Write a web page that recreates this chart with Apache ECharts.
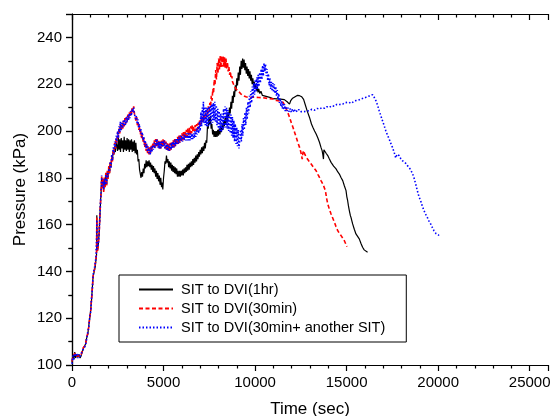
<!DOCTYPE html>
<html>
<head>
<meta charset="utf-8">
<script src="https://cdn.jsdelivr.net/npm/echarts@6/dist/echarts.min.js"></script>
<style>
  html, body { margin: 0; padding: 0; background: #fff; }
  #chart { width: 552px; height: 416px; }
</style>
</head>
<body>
<div id="chart"></div>
<script>
// Pressure histories, [time (sec), pressure (kPa)]
const seriesNames = ['SIT to DVI(1hr)', 'SIT to DVI(30min)', 'SIT to DVI(30min+ another SIT)'];

const run1hr = [
  [0,101],[50,104.5],[100,102.5],[150,105.5],[200,103],[260,104.5],[320,103.5],[380,104.5],[440,103],[500,104],
  [560,105.5],[620,107],[680,106.5],[740,109],[800,111.5],[860,113],[920,117],[970,120],[1020,123.5],[1070,128],
  [1110,133],[1150,137.5],[1190,139],[1230,140.5],[1270,142],[1310,145],[1340,147],[1350,158],[1356,164],[1362,150],
  [1400,149],[1440,152],[1480,156],[1520,163],[1560,170],[1590,174],[1620,180],[1650,176],[1690,179],[1730,174.5],
  [1770,180],[1810,176.5],[1850,182],[1890,177],[1930,182.5],[1970,180],[2010,184.5],[2050,182],[2090,186.5],[2130,185],
  [2170,188.5],[2210,187.5],[2250,191.5],[2290,190],[2330,193.5],[2370,191],[2410,195.5],
  [2450,196],[2490,191.5],[2530,197],[2570,192],[2610,196.5],[2650,191],[2690,197],[2730,192.5],[2770,196],[2810,191],
  [2850,197.5],[2890,192],[2930,196],[2970,191.5],[3010,197],[3050,192],[3090,196.5],[3130,191],[3170,196],[3210,192],
  [3250,196.5],[3290,191],[3330,195.5],[3370,191.5],[3410,196],[3450,190.5],[3490,195],[3530,190],[3570,192],
  [3610,187],[3650,188],[3690,183.5],[3730,184],[3770,180],[3810,182.5],[3850,180.5],[3890,184],[3930,182],[3970,186],
  [4010,184],[4050,187.5],[4090,184.5],[4130,187],[4170,185],[4210,187.5],[4250,184.5],[4290,186.5],[4330,183.5],[4370,185.5],
  [4410,182.5],[4450,185],[4490,182],[4530,184],[4570,180.5],[4610,183],[4650,179.5],[4690,182],[4730,178.5],[4770,181],
  [4810,177],[4850,180],[4890,176],[4930,178],[4960,175],[5000,180],[5040,183],[5080,187],[5120,186],[5160,189.5],
  [5200,186.5],[5240,188],[5280,184.5],[5320,187],[5360,184],[5400,186.5],[5440,183],[5480,185.5],[5520,182.5],[5560,185],
  [5600,182],[5640,184.5],[5680,181.5],[5720,184],[5760,180.5],[5800,183],[5840,180.5],[5880,183],[5920,180.5],[5960,183],
  [6000,181],[6040,183.5],[6080,181],[6120,184],[6160,182],[6200,184.5],[6240,182.5],[6280,185.5],[6320,183],[6360,186],
  [6400,183.5],[6440,186.5],[6480,184.5],[6520,187],[6560,185],[6600,188],[6640,185.5],[6680,188.5],[6720,186.5],[6760,189.5],
  [6800,187],[6840,190],[6880,188],[6920,191],[6960,189],[7000,192],[7040,190],[7080,193],[7120,190.5],[7160,193.5],
  [7200,191.5],[7240,195],[7280,192.5],[7320,196],[7360,195],[7400,202],[7440,201],[7480,206],[7520,203],[7560,206.5],
  [7600,201],[7640,203],[7680,198.5],[7720,200.5],[7760,197.5],[7800,200],[7840,197.5],[7880,200],[7920,197.5],[7960,200.5],
  [8000,198],[8040,201],[8080,198.5],[8120,202],[8160,199.5],[8200,203],[8240,200.5],[8280,204.5],[8320,202],[8360,205.5],
  [8400,203],[8440,207],[8480,204],[8520,208],[8560,205.5],[8600,210],[8640,207.5],[8680,212.5],[8720,209.5],[8760,215],
  [8800,212],[8840,217],[8880,214.5],[8920,219.5],[8960,217],[9000,222.5],[9040,219.5],[9080,225],[9120,221.5],[9160,227.5],
  [9200,224],[9240,230],[9280,226.5],[9320,231],[9360,227],[9400,230.5],[9440,226],[9480,229],[9520,224.5],[9560,227.5],
  [9600,223.5],[9640,226.5],[9680,222.5],[9720,225.5],[9760,221.5],[9800,224],[9840,220],[9880,222.5],[9920,219],[9960,221],
  [10000,218],[10040,220],[10080,217],[10120,219],[10160,216.5],[10200,218],[10260,216],[10320,217],[10400,215.2],[10500,215.5],
  [10600,214.8],[10700,214.9],[10800,214.4],[11000,213.8],[11200,213.7],[11400,213.6],[11600,213.4],[11750,212.5],[11880,211.5],[11950,213],
  [12050,214],[12150,214.8],[12300,215.2],[12430,215.1],[12550,214.6],[12650,213.5],[12750,211],[12850,208.5],[12974,205.8],[13080,203],
  [13155,201.6],[13250,200],[13336,198.7],[13430,197],[13517,195.2],[13600,193],[13662,191.6],[13700,190],[13735,188],[13760,192],
  [13789,191.6],[13880,190.5],[13970,189.5],[14060,188],[14151,186.6],[14290,185],[14423,183.8],[14520,182.5],[14605,181.6],[14700,180],
  [14787,178.8],[14880,176.5],[14968,174.5],[15010,172],[15057,170.2],[15100,168],[15148,166],[15200,164],[15239,163.1],[15290,161.5],
  [15329,160.3],[15420,158],[15510,156],[15600,155],[15691,153.9],[15780,152],[15873,150.3],[15960,149.2],[16053,148.6],[16145,148.2]
];

const run30min = [
  [0,101.5],[50,103.5],[100,103],[150,105],[200,103.5],[260,104],[320,104],[380,104],[440,103.5],[500,104.5],
  [560,105],[620,107.5],[680,107],[740,108.5],[800,112],[860,113.5],[920,116.5],[970,120.5],[1020,123],[1070,128.5],
  [1110,132.5],[1150,138],[1190,138.5],[1230,141],[1270,141.5],[1310,145.5],[1340,147.5],[1350,157],[1356,163],[1362,150.5],
  [1400,148.5],[1440,152.5],[1480,155.5],[1520,163.5],[1560,169.5],[1590,174.5],[1620,180.5],[1650,175.5],[1690,179.5],[1730,174],
  [1770,180.5],[1810,176],[1850,182.5],[1890,176.5],[1930,183],[1970,179.5],[2010,185],[2050,181.5],
  [2090,186.5],[2130,184.5],[2170,189.5],[2210,187],[2250,192],[2290,190],[2330,195],[2370,192.5],[2410,197],[2450,195],
  [2490,199.5],[2530,197],[2570,201],[2610,199],[2650,203],[2690,200],[2730,203.5],[2770,201],[2810,204.5],[2850,202],
  [2890,205.5],[2930,203],[2970,206],[3010,204],[3050,207],[3090,205],[3130,208],[3170,206],[3210,209],[3250,207],
  [3290,210],[3330,208],[3370,210.5],[3410,207.5],[3450,207.5],[3490,204.5],[3530,206],[3570,202.5],[3610,204],[3650,200.5],
  [3690,202],[3730,198.5],[3770,200],[3810,196.5],[3850,198.5],[3890,195],[3930,197],[3970,193],[4010,195.5],[4050,191.5],
  [4090,194],[4130,190.5],[4170,193],[4210,190],[4250,193],[4290,190.5],[4330,194],[4370,191.5],[4410,195],[4450,192.5],
  [4490,196],[4530,193],[4570,196.5],[4610,193.5],[4650,196.5],[4690,193],[4730,196],[4770,192.5],[4810,195.5],[4850,192.5],
  [4890,196],[4930,193],[4970,196.5],[5010,193.5],[5050,196],[5090,192.5],[5130,195.5],[5170,192],[5210,195],[5250,191.5],
  [5290,194.5],[5330,191.5],[5370,195],[5410,192],[5450,195.5],[5490,192.5],[5530,196],[5570,193],[5610,196.5],[5650,193.5],
  [5690,197],[5730,194],[5770,197.5],[5810,194.5],[5850,198],[5890,195],[5930,198.5],[5970,195.5],[6010,199],[6050,196],
  [6090,199.5],[6130,196.5],[6170,200],[6210,197],[6250,200.5],[6290,197.5],[6330,201],[6370,198],[6410,201.5],[6450,198.5],
  [6490,202],[6530,199],[6570,202.5],[6610,199.5],[6650,202],[6690,200],[6730,202.5],[6770,200],[6810,203],[6850,200.5],
  [6890,203.5],[6930,201],[6970,204.5],[7010,202.5],[7050,205],[7090,203.5],[7130,206.5],[7170,204],[7210,207],[7250,205],
  [7290,208],[7330,206],[7370,209],[7410,207],[7450,210.5],[7490,208.5],[7530,212],[7570,210.5],[7610,215],[7650,213],
  [7690,218],[7730,216],[7770,222],[7810,219.5],[7850,226],[7890,222],[7930,229],[7970,224.5],[8010,231],[8050,226],
  [8090,232],[8130,227],[8170,232],[8210,227.5],[8250,232],[8290,227.5],[8330,231.5],[8370,227],[8410,231],[8450,226.5],
  [8490,229.5],[8530,225.5],[8570,227.5],[8610,224],[8650,225.5],[8690,222.5],[8730,223.5],[8770,221],[8810,221.5],[8850,219.5],
  [8900,219.5],[8950,218],[9000,218.2],[9079,217.2],[9200,216],[9351,215.1],[9500,214.6],[9623,214.4],[9800,214.4],[10000,214.4],
  [10200,214.3],[10438,214.2],[10700,213.9],[10982,213.7],[11162,213],[11350,212.8],[11524,212.3],[11620,211],[11705,209.4],[11800,207.6],
  [11886,205.8],[11980,203.5],[12068,201.6],[12160,199.4],[12249,197.3],[12340,195],[12430,193],[12500,191],[12575,188],[12610,190.5],
  [12647,191.6],[12720,190],[12792,188.8],[12930,187.3],[13064,185.9],[13200,184.4],[13336,183],[13430,181.5],[13517,180.2],[13600,178.8],
  [13698,177.4],[13770,176],[13843,174.5],[13900,171.5],[13970,168.8],[14060,166.5],[14151,164.5],[14240,162.8],[14333,161],[14420,159.2],
  [14514,157.4],[14600,156.3],[14695,155.3],[14790,154.2],[14877,153.1],[14950,151.8],[15021,150.6]
];

const run30minSit = [
  [0,100.5],[50,104],[100,102],[150,105],[200,103.5],[260,105],[320,103],[380,104.5],[440,103.5],[500,103.5],
  [560,106],[620,106.5],[680,107.5],[740,108.5],[800,111],[860,114],[920,116],[970,121],[1020,122.5],[1070,129],
  [1110,132],[1150,138.5],[1190,138],[1230,141.5],[1270,141],[1310,146],[1340,146.5],[1350,156],[1356,162],[1362,149.5],
  [1400,149.5],[1440,151.5],[1480,156.5],[1520,162.5],[1560,170.5],[1590,173.5],[1620,181],[1650,176.5],[1690,178.5],[1730,175],
  [1770,179.5],[1810,177],[1850,181.5],[1890,177.5],[1930,182],[1970,180.5],[2010,184],[2050,182.5],
  [2090,187],[2130,184],[2170,190],[2210,187.5],[2250,193],[2290,190.5],[2330,195.5],[2370,193],[2410,198],[2450,195.5],
  [2490,200],[2530,197],[2570,202],[2610,199.5],[2640,204],[2680,200],[2720,203.5],[2760,201],[2800,204.5],[2840,202],
  [2880,205],[2920,202.5],[2960,206],[3000,203.5],[3040,206.5],[3080,204.5],[3120,207.5],[3160,205.5],[3200,208.5],[3240,206.5],
  [3280,209.5],[3320,208],[3360,210],[3400,207.5],[3440,208],[3480,205],[3520,206.5],[3560,203],[3600,205],[3640,201.5],
  [3680,203],[3720,199.5],[3760,201],[3800,197.5],[3840,199.5],[3880,196],[3920,197.5],[3960,194],[4000,196],[4040,192.5],
  [4080,194.5],[4120,191],[4160,193.5],[4200,190.5],[4240,192.5],[4280,190],[4320,193],[4360,191],[4400,194],[4440,192],
  [4480,195],[4520,192.5],[4560,196],[4600,193.5],[4640,196.5],[4680,193],[4720,195.5],[4760,192.5],[4800,195.5],[4840,192.5],
  [4880,195.5],[4920,193],[4960,196],[5000,193.5],[5040,196],[5080,192.5],[5120,195],[5160,192],[5200,194.5],[5240,191.5],
  [5280,194],[5320,191.5],[5360,194.5],[5400,192],[5440,195],[5480,192.5],[5520,195.5],[5560,193],[5600,196],[5640,193.5],
  [5680,196.5],[5720,194],[5760,197],[5800,194.5],[5840,197.5],[5880,195],[5920,198],[5960,195.5],[6000,198],[6040,195.5],
  [6080,198.5],[6120,196],[6160,198.5],[6200,196],[6240,199],[6280,196],[6320,199],[6360,196],[6400,199],[6440,196],
  [6480,199],[6520,196.5],[6560,199],[6600,196.5],[6640,199],[6680,197],[6720,200],[6760,197.5],[6800,201],[6840,198.5],
  [6880,202],[6920,199],[6960,204],[7000,200],[7040,208],[7080,202],[7120,210],[7150,204],[7177,212.5],[7200,203.5],
  [7240,210.5],[7280,202.5],[7320,210],[7360,202],[7400,210],[7440,202],[7480,210.5],[7520,202.5],[7560,211],[7600,203],
  [7640,211.5],[7680,203.5],[7720,212],[7760,204.5],[7800,212.5],[7840,204],[7880,211],[7920,202.5],[7960,209.5],[8000,201],
  [8040,208.5],[8080,200],[8120,207.5],[8160,199.5],[8200,207.5],[8240,200.5],[8280,209.5],[8320,201.5],[8360,210.5],[8400,201.5],
  [8440,210],[8480,201],[8520,209],[8560,200],[8600,208],[8640,199],[8680,207],[8720,198],[8760,206],[8800,197],
  [8840,204.5],[8880,195.5],[8920,203],[8960,194.5],[9000,201.5],[9040,193.5],[9080,200.5],[9120,192.5],[9170,193],[9210,200.5],
  [9250,195.5],[9290,203],[9330,198],[9370,205.5],[9410,200.5],[9450,208],[9490,202.5],[9530,210],[9570,205],[9610,212.5],
  [9650,207.5],[9690,215],[9730,210],[9770,217],[9810,212],[9850,219],[9890,214],[9930,220.5],[9970,215.5],[10010,222],
  [10050,217],[10090,223],[10130,218],[10170,224],[10210,219],[10250,225],[10290,220.5],[10330,226.5],[10370,222],[10410,228],
  [10450,223.5],[10490,229],[10530,225.5],[10570,228.5],[10610,223.5],[10650,226.5],[10690,221.5],[10730,224.5],[10770,219.5],[10810,222.5],
  [10850,218],[10890,221],[10930,217],[10970,220.5],[11010,216.5],[11050,220],[11090,216],[11130,219],[11170,215],[11210,217.5],
  [11250,213.5],[11290,216],[11330,212],[11370,214],[11410,210.5],[11450,213],[11490,209.5],[11530,212],[11570,209],[11610,211.5],
  [11650,208.5],[11700,210.5],[11750,208.5],[11800,210],[11860,208.2],[11920,209.6],[11980,208],[12050,209.5],[12120,208],[12200,209.3],
  [12300,208.2],[12400,209.2],[12500,208.3],[12600,209],[12700,208.3],[12800,209],[12974,208.7],[13100,209.3],[13250,208.9],[13400,209.6],
  [13517,209.4],[13650,210],[13800,209.7],[13930,210.4],[14061,210.1],[14200,210.8],[14330,210.6],[14470,211.4],[14605,211.3],[14700,211.8],
  [14787,211.5],[14900,212.1],[15000,211.8],[15120,212.3],[15239,211.8],[15380,212.5],[15510,213],[15650,213.2],[15780,213.7],[15920,214],
  [16053,214.4],[16150,214.6],[16250,215],[16340,215.2],[16416,215.5],[16500,214.5],[16597,213],[16690,211],[16779,208.7],[16870,206.5],
  [16960,204.4],[17050,202.3],[17141,200.1],[17230,198.3],[17322,196.6],[17410,194.8],[17504,193],[17600,190.8],[17685,188.5],[17750,190],
  [17830,190.2],[17866,189.5],[17950,188.3],[18047,187.3],[18140,186.6],[18228,186.2],[18322,185.2],[18450,184],[18591,182],[18681,180],
  [18772,177.4],[18863,174.5],[18950,172],[19044,170.2],[19130,168],[19225,166],[19310,164.5],[19407,163.1],[19500,161.5],[19588,160.3],
  [19680,158.8],[19769,157.4],[19880,156.2],[20004,155.7],[20041,155.3]
];

// Axis ranges and tick spacing
const timeRange = [0, 26000];
const timeStep = 5000;
const pressureRange = [100, 250];
const pressureStep = 20;

const FONT = '"Liberation Sans", Arial, sans-serif';
const chart = echarts.init(document.getElementById('chart'), null, { renderer: 'canvas' });

const axisLineStyle = { color: '#000', width: 1.2 };
const tickStyle = { color: '#000', width: 1.2 };
const plain = v => String(v);

chart.setOption({
  animation: false,
  backgroundColor: '#fff',
  grid: { left: 72, right: 4, top: 14, bottom: 51, outerBoundsMode: 'none', containLabel: false },
  legend: {
    orient: 'vertical',
    left: 119,
    top: 275,
    padding: [7, 21, 7, 19],
    itemGap: 4,
    itemWidth: 34,
    itemHeight: 14,
    borderColor: '#000',
    borderWidth: 1,
    backgroundColor: '#fff',
    selectedMode: false,
    // only the line sample is drawn in each legend entry
    itemStyle: { opacity: 0 },
    textStyle: { fontFamily: FONT, fontSize: 14.5, color: '#000', padding: [0, 0, 0, 3] },
    data: seriesNames
  },
  xAxis: [
    {
      type: 'value', position: 'bottom',
      min: timeRange[0], max: timeRange[1], interval: timeStep,
      name: 'Time (sec)', nameLocation: 'middle', nameGap: 36, nameMoveOverlap: false,
      nameTextStyle: { fontFamily: FONT, fontSize: 17, color: '#000' },
      axisLine: { lineStyle: axisLineStyle },
      axisTick: { show: true, length: 6, lineStyle: tickStyle },
      minorTick: { show: true, splitNumber: 5, length: 3.5, lineStyle: tickStyle },
      axisLabel: { fontFamily: FONT, fontSize: 15, color: '#000', margin: 10, showMaxLabel: false, formatter: plain },
      splitLine: { show: false }
    },
    {
      type: 'value', position: 'top',
      min: timeRange[0], max: timeRange[1], interval: timeStep,
      axisLine: { lineStyle: axisLineStyle },
      axisTick: { show: true, inside: true, length: 6, lineStyle: tickStyle },
      minorTick: { show: true, splitNumber: 5, length: 3.5, lineStyle: tickStyle },
      axisLabel: { show: false },
      splitLine: { show: false }
    }
  ],
  yAxis: [
    {
      type: 'value', position: 'left',
      min: pressureRange[0], max: pressureRange[1], interval: pressureStep,
      name: 'Pressure (kPa)', nameLocation: 'middle', nameGap: 43, nameMoveOverlap: false,
      nameTextStyle: { fontFamily: FONT, fontSize: 17, color: '#000' },
      axisLine: { show: true, lineStyle: axisLineStyle },
      axisTick: { show: true, length: 6, lineStyle: tickStyle },
      minorTick: { show: true, splitNumber: 2, length: 3.5, lineStyle: tickStyle },
      axisLabel: { fontFamily: FONT, fontSize: 15, color: '#000', margin: 10, showMaxLabel: false, formatter: plain },
      splitLine: { show: false }
    },
    {
      type: 'value', position: 'right',
      min: pressureRange[0], max: pressureRange[1], interval: pressureStep,
      axisLine: { show: true, lineStyle: axisLineStyle },
      axisTick: { show: true, inside: true, length: 6, lineStyle: tickStyle },
      minorTick: { show: true, splitNumber: 2, length: 3.5, lineStyle: tickStyle },
      axisLabel: { show: false },
      splitLine: { show: false }
    }
  ],
  series: [
    {
      name: seriesNames[0], type: 'line', data: run1hr, symbol: 'none',
      xAxisIndex: 0, yAxisIndex: 0,
      lineStyle: { color: '#000', width: 1.2, type: 'solid' },
      itemStyle: { color: '#000' }
    },
    {
      name: seriesNames[1], type: 'line', data: run30min, symbol: 'none',
      xAxisIndex: 0, yAxisIndex: 0,
      lineStyle: { color: '#ff0000', width: 1.6, type: [4, 2.5] },
      itemStyle: { color: '#ff0000' }
    },
    {
      name: seriesNames[2], type: 'line', data: run30minSit, symbol: 'none',
      xAxisIndex: 0, yAxisIndex: 0,
      lineStyle: { color: '#0000ff', width: 1.6, type: [1.5, 2] },
      itemStyle: { color: '#0000ff' }
    }
  ]
});
</script>
</body>
</html>
